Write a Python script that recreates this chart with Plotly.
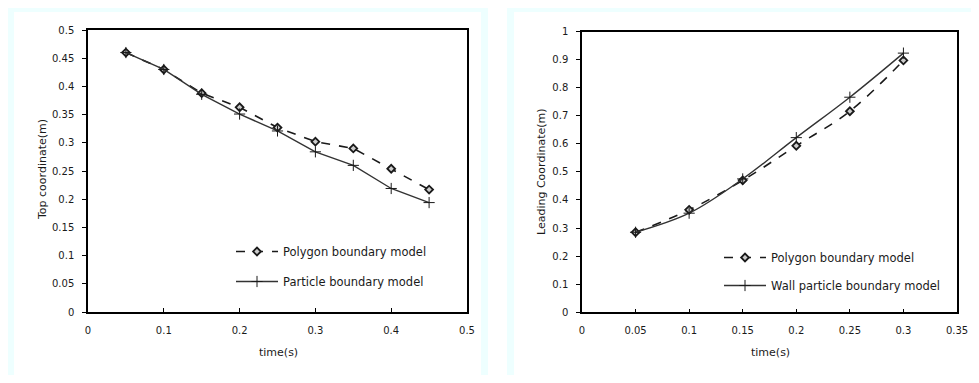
import plotly.graph_objects as go

# page is shown with an 8px body margin; keep the figure inside the window
OFF = 8
W, H = 979 - 2 * OFF, 383 - 2 * OFF

# ---- data: left chart ----
t_left = [0.05, 0.10, 0.15, 0.20, 0.25, 0.30, 0.35, 0.40, 0.45]
top_polygon = [0.460, 0.430, 0.388, 0.363, 0.327, 0.302, 0.290, 0.254, 0.217]
top_particle = [0.460, 0.430, 0.386, 0.351, 0.321, 0.284, 0.260, 0.219, 0.194]
left_xticks = [0, 0.1, 0.2, 0.3, 0.4, 0.5]
left_xlabels = ["0", "0.1", "0.2", "0.3", "0.4", "0.5"]
left_yticks = [0, 0.05, 0.1, 0.15, 0.2, 0.25, 0.3, 0.35, 0.4, 0.45, 0.5]
left_ylabels = ["0", "0.05", "0.1", "0.15", "0.2", "0.25", "0.3", "0.35", "0.4", "0.45", "0.5"]

# ---- data: right chart ----
t_right = [0.05, 0.10, 0.15, 0.20, 0.25, 0.30]
lead_polygon = [0.285, 0.365, 0.470, 0.593, 0.716, 0.897]
lead_wall = [0.285, 0.353, 0.475, 0.622, 0.766, 0.923]
right_xticks = [0, 0.05, 0.1, 0.15, 0.2, 0.25, 0.3, 0.35]
right_xlabels = ["0", "0.05", "0.1", "0.15", "0.2", "0.25", "0.3", "0.35"]
right_yticks = [0, 0.1, 0.2, 0.3, 0.4, 0.5, 0.6, 0.7, 0.8, 0.9, 1.0]
right_ylabels = ["0", "0.1", "0.2", "0.3", "0.4", "0.5", "0.6", "0.7", "0.8", "0.9", "1"]

FONT = "DejaVu Sans"
INK = "#1a1a1a"
CYAN = "#EEFFFF"

# page pixel -> paper fraction
def px(x):
    return (x - OFF) / W

def py(y):
    return 1 - (y - OFF) / H

fig = go.Figure()

diamond = dict(symbol="diamond", size=6, color="#cccccc", line=dict(color=INK, width=1.8))
cross = dict(symbol="cross-thin-open", size=8, color=INK, line=dict(color=INK, width=1))

fig.add_trace(go.Scatter(x=t_left, y=top_polygon, mode="lines+markers", name="Polygon boundary model",
                         line=dict(color=INK, width=1.6, dash="dash"), marker=diamond,
                         xaxis="x", yaxis="y", legend="legend", legendgroup="a"))
fig.add_trace(go.Scatter(x=t_left, y=top_particle, mode="lines+markers", name="Particle boundary model",
                         line=dict(color="#333333", width=1.4), marker=cross,
                         xaxis="x", yaxis="y", legend="legend", legendgroup="b"))
fig.add_trace(go.Scatter(x=t_right, y=lead_polygon, mode="lines+markers", name="Polygon boundary model",
                         line=dict(color=INK, width=1.6, dash="dash", shape="spline"), marker=diamond,
                         xaxis="x2", yaxis="y2", legend="legend2", legendgroup="c"))
fig.add_trace(go.Scatter(x=t_right, y=lead_wall, mode="lines+markers", name="Wall particle boundary model",
                         line=dict(color="#333333", width=1.4, shape="spline"), marker=cross,
                         xaxis="x2", yaxis="y2", legend="legend2", legendgroup="d"))

axis_common = dict(showline=True, linecolor="black", linewidth=1.5, mirror=True, automargin=False,
                   showgrid=False, zeroline=False, tickcolor="black", ticklen=4,
                   ticklabeloverflow="allow",
                   tickfont=dict(family=FONT, size=10, color=INK))

fig.update_layout(
    width=W, height=H,
    margin=dict(l=0, r=0, t=0, b=0, autoexpand=False),
    paper_bgcolor="white", plot_bgcolor="white",
    showlegend=True,
    xaxis=dict(domain=[px(88), px(467)], range=[0, 0.5], tickvals=left_xticks, ticktext=left_xlabels,
               ticks="inside", anchor="y", ticklabelstandoff=8, **axis_common),
    yaxis=dict(domain=[py(312), py(30)], range=[0, 0.5], tickvals=left_yticks, ticktext=left_ylabels,
               ticks="outside", anchor="x", ticklabelstandoff=6, **axis_common),
    xaxis2=dict(domain=[px(582), px(957)], range=[0, 0.35], tickvals=right_xticks, ticktext=right_xlabels,
                ticks="inside", anchor="y2", ticklabelstandoff=8, **axis_common),
    yaxis2=dict(domain=[py(312.3), py(31.5)], range=[0, 1], tickvals=right_yticks, ticktext=right_ylabels,
                ticks="outside", anchor="x2", ticklabelstandoff=6, **axis_common),
    legend=dict(x=px(231), y=py(237), xanchor="left", yanchor="top", bgcolor="rgba(0,0,0,0)",
                font=dict(family=FONT, size=11.5, color=INK), itemwidth=42, tracegroupgap=11,
                traceorder="grouped"),
    legend2=dict(x=px(719), y=py(243), xanchor="left", yanchor="top", bgcolor="rgba(0,0,0,0)",
                 font=dict(family=FONT, size=11.5, color=INK), itemwidth=42, tracegroupgap=9,
                 traceorder="grouped"),
)

# light cyan panel frames (page pixel coordinates)
def strip(x0, x1, y0, y1):
    fig.add_shape(type="rect", xref="paper", yref="paper", x0=px(x0), x1=px(x1), y0=py(y1), y1=py(y0),
                  fillcolor=CYAN, line=dict(width=0), layer="below")

for (a, b) in [(7, 488), (507, 979)]:
    strip(a, b, 3, 12)          # top
    strip(a, b, 377, 383)       # bottom
    strip(a, a + 7, 3, 383)     # left
    strip(b - 7, b, 3, 383)     # right

def ann(text, x, y, angle=0):
    fig.add_annotation(text=text, x=px(x), y=py(y), xref="paper", yref="paper", showarrow=False,
                       textangle=angle, xanchor="center", yanchor="middle",
                       font=dict(family=FONT, size=11, color=INK))

ann("Top coordinate(m)", 42, 170, -90)
ann("time(s)", 278, 352)
ann("Leading Coordinate(m)", 542, 172, -90)
ann("time(s)", 770, 352)

fig.write_html("out.html")
